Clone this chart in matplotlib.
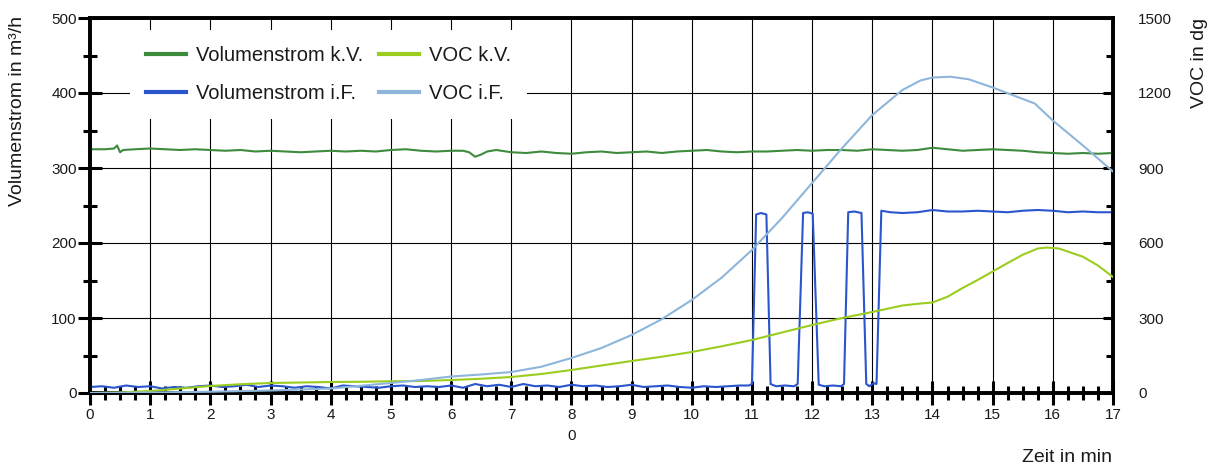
import numpy as np
import matplotlib
matplotlib.use("Agg")
import matplotlib.pyplot as plt
from matplotlib.ticker import MultipleLocator

plt.rcParams['font.family'] = ['Liberation Sans', 'DejaVu Sans']

# ---------------- data ----------------
t_flow_kv = [0, 0.25, 0.4, 0.45, 0.5, 0.55, 0.75, 1.0, 1.25, 1.5, 1.75, 2.0, 2.25, 2.5, 2.75,
             3.0, 3.25, 3.5, 3.75, 4.0, 4.25, 4.5, 4.75, 5.0, 5.25, 5.5, 5.75, 6.0, 6.2, 6.3,
             6.4, 6.5, 6.6, 6.75, 7.0,
             7.25, 7.5, 7.75, 8.0, 8.25, 8.5, 8.75, 9.0, 9.25, 9.5,
             9.75, 10.0, 10.25, 10.5, 10.75, 11.0, 11.25, 11.5, 11.75, 12.0,
             12.25, 12.5, 12.75, 13.0, 13.25, 13.5, 13.75, 14.0, 14.25, 14.5,
             14.75, 15.0, 15.25, 15.5, 15.75, 16.0, 16.25, 16.5, 16.75, 17.0]
flow_kv = [325, 325, 326, 330, 321, 324, 325, 326, 325, 324, 325, 324, 323, 324, 322,
           323, 322, 321, 322, 323, 322, 323, 322, 324, 325, 323, 322, 323, 323, 321,
           315, 318, 322, 324, 321,
           320, 322, 320, 319, 321, 322, 320, 321, 322, 320,
           322, 323, 324, 322, 321, 322, 322, 323, 324, 323,
           324, 324, 323, 325, 324, 323, 324, 327, 325, 323,
           324, 325, 324, 323, 321, 320, 319, 320, 319, 320]

t_flow_if = [0.0, 0.2, 0.4, 0.6, 0.8, 1.0, 1.2, 1.4, 1.6, 1.8, 2.0, 2.2, 2.4, 2.6, 2.8,
             3.0, 3.2, 3.4, 3.6, 3.8, 4.0, 4.2, 4.4, 4.6, 4.8, 5.0, 5.2, 5.4, 5.6, 5.8,
             6.0, 6.2, 6.4, 6.6, 6.8, 7.0, 7.2, 7.4, 7.6, 7.8, 8.0, 8.2, 8.4, 8.6, 8.8,
             9.0, 9.2, 9.4, 9.6, 9.8, 10.0, 10.2, 10.4, 10.6, 10.8,
             10.95, 11.0, 11.07, 11.15, 11.24, 11.31, 11.4, 11.55, 11.7, 11.76,
             11.85, 11.93, 12.01, 12.11, 12.2, 12.35, 12.48, 12.53, 12.6, 12.7,
             12.82, 12.9, 12.95, 13.02, 13.07, 13.15, 13.3, 13.5, 13.75, 14.0,
             14.25, 14.5, 14.75, 15.0, 15.25, 15.5, 15.75, 16.0, 16.25, 16.5, 16.75, 17.0]
flow_if = [8, 9, 7, 10, 8, 9, 6, 8, 7, 9, 10, 8, 9, 11, 8, 10, 9, 7, 9, 8,
           6, 10, 9, 8, 7, 9, 10, 8, 9, 8, 10, 7, 12, 9, 11, 8, 12, 9, 10, 8,
           11, 9, 10, 8, 9, 11, 8, 9, 10, 8, 7, 9, 8, 9, 10,
           10, 12, 238, 240, 238, 12, 9, 10, 9, 12,
           240, 241, 239, 11, 9, 10, 9, 12, 241, 242,
           240, 12, 9, 13, 12, 243, 241, 240, 241, 244,
           242, 242, 243, 242, 241, 243, 244, 243, 241, 242, 241, 241]

t_voc_kv = [0, 0.5, 1, 1.5, 2, 2.5, 3, 3.5, 4, 4.5, 5, 5.5, 6, 6.5, 7, 7.5, 8, 8.5, 9, 9.5,
            10, 10.5, 11, 11.5, 12, 12.5, 13, 13.5, 13.8, 14, 14.25, 14.5, 14.75, 15, 15.25,
            15.5, 15.75, 15.9, 16.1, 16.5, 16.75, 17]
voc_kv = [0, 2, 8, 18, 28, 35, 40, 42, 44, 45, 47, 48, 52, 57, 64, 76, 92, 110, 128, 145,
          164, 187, 212, 242, 272, 300, 324, 350, 358, 362, 385, 420, 452, 486, 520,
          553, 578, 582, 578, 545, 510, 464]

t_voc_if = [0, 1, 2, 3, 4, 5, 5.5, 6, 6.5, 7, 7.5, 8, 8.5, 9, 9.5, 10, 10.5, 11, 11.5, 12,
            12.5, 13, 13.5, 13.8, 14, 14.3, 14.6, 15, 15.35, 15.7, 16, 16.5, 17]
voc_if = [0, 2, 5, 10, 18, 40, 52, 66, 74, 84, 105, 140, 180, 232, 295, 372, 462, 572, 700, 840,
          980, 1112, 1212, 1250, 1262, 1265, 1255, 1222, 1190, 1158, 1090, 990, 886]

x_ticks = list(range(0, 18))
left_ticks = [0, 100, 200, 300, 400, 500]
right_ticks = [0, 300, 600, 900, 1200, 1500]

c_flow_kv = '#3d8b3d'
c_flow_if = '#2a55cc'
c_voc_kv = '#9acd1e'
c_voc_if = '#8db6da'
txt = '#1a1a1a'

# ---------------- figure ----------------
fig = plt.figure(figsize=(12.2, 4.68), dpi=100)
ax = fig.add_axes([90/1220, 1-393/468, (1113-90)/1220, (393-18)/468])
ax2 = ax.twinx()

ax.set_xlim(0, 17)
ax.set_ylim(0, 500)
ax2.set_ylim(0, 1500)

l1, = ax.plot(t_flow_kv, flow_kv, color=c_flow_kv, lw=1.5, label='Volumenstrom k.V.', zorder=3)
l2, = ax.plot(t_flow_if, flow_if, color=c_flow_if, lw=1.5, label='Volumenstrom i.F.', zorder=3)
l3, = ax2.plot(t_voc_kv, voc_kv, color=c_voc_kv, lw=1.5, label='VOC k.V.', zorder=3)
l4, = ax2.plot(t_voc_if, voc_if, color=c_voc_if, lw=1.5, label='VOC i.F.', zorder=3)

ax.set_xticks(x_ticks)
ax.xaxis.set_minor_locator(MultipleLocator(0.25))
ax.set_yticks(left_ticks)
ax.yaxis.set_minor_locator(MultipleLocator(50))
ax2.set_yticks(right_ticks)
ax2.yaxis.set_minor_locator(MultipleLocator(150))

ax.grid(True, which='major', color='black', lw=0.8, zorder=1)
ax.set_axisbelow(True)

for a in (ax, ax2):
    for s in a.spines.values():
        s.set_linewidth(2.6)
        s.set_color('black')

ax.tick_params(axis='x', which='major', direction='inout', length=17, width=2.2,
               labelsize=11, pad=2, colors='black', labelcolor=txt)
ax.tick_params(axis='x', which='minor', direction='inout', length=10, width=2.2, colors='black')
ax.tick_params(axis='y', which='major', direction='inout', length=17, width=2.2,
               labelsize=11, pad=1, colors='black', labelcolor=txt)
ax.tick_params(axis='y', which='minor', direction='inout', length=10, width=2.2, colors='black')
ax2.tick_params(axis='y', which='major', direction='in', length=7, width=2.2,
                labelsize=11, pad=18, colors='black', labelcolor=txt)
ax2.tick_params(axis='y', which='minor', direction='in', length=5, width=2.2, colors='black')

fig.text(18/1220, 1-16/468, 'Volumenstrom in m³/h', fontsize=14, color=txt,
         rotation=90, ha='center', va='top')
fig.text(1200/1220, 1-18/468, 'VOC in dg', fontsize=14, color=txt,
         rotation=90, ha='center', va='top')

leg = ax2.legend(handles=[l1, l2, l3, l4], ncol=2, loc='upper left',
                 bbox_to_anchor=(0.039, 0.968), fontsize=14.5, frameon=True,
                 facecolor='white', edgecolor='none', framealpha=1, fancybox=False,
                 handlelength=2.0, handletextpad=0.5, columnspacing=0.75,
                 labelspacing=0.95, borderpad=0.8, borderaxespad=0)
for line in leg.get_lines():
    line.set_linewidth(3)
leg.set_zorder(5)
for t in leg.get_texts():
    t.set_color(txt)

fig.text(572/1220, 1-436/468, '0', fontsize=11, color=txt, ha='center', va='center')
fig.text(1112/1220, 1-458/468, 'Zeit in min', fontsize=14, color=txt, ha='right', va='center')

fig.savefig('out.png', dpi=100)
